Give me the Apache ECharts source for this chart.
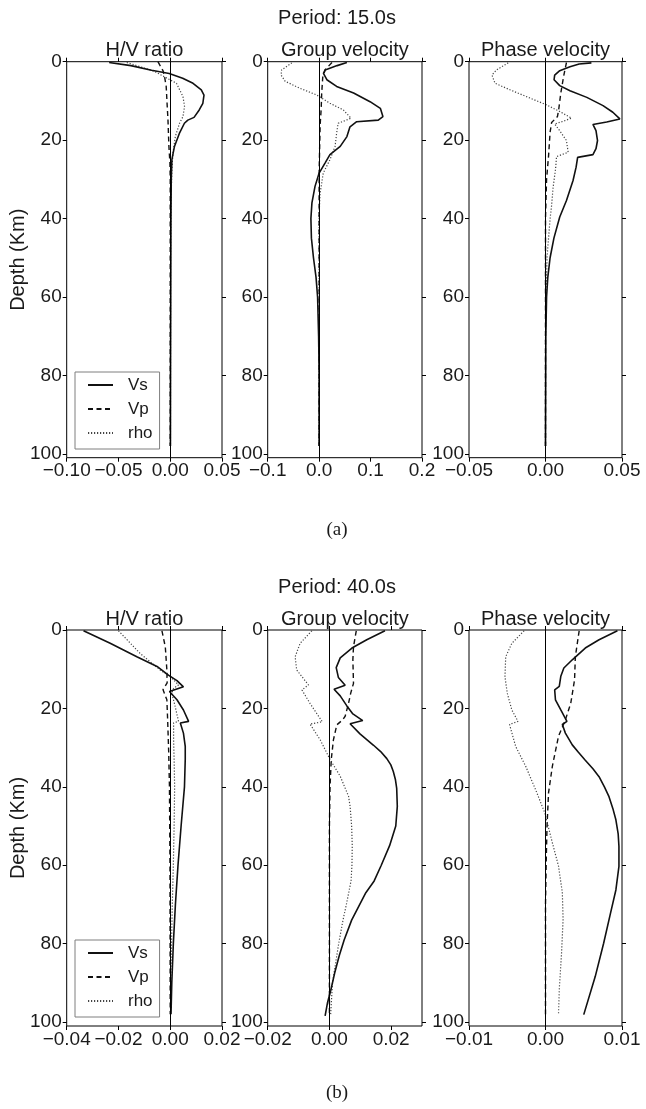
<!DOCTYPE html>
<html>
<head>
<meta charset="utf-8">
<script src="https://cdn.jsdelivr.net/npm/echarts@6/dist/echarts.min.js"></script>
<style>html,body{margin:0;padding:0;background:#fff;}#c{width:646px;height:1109px;}</style>
</head>
<body>
<div id="c"></div>
<script>
// ---------- DATA: [value, depth(km)] ----------
// Period 15.0 s
const hv15_vs = [[-0.059,0.2],[-0.038,1.0],[-0.018,2.2],[-0.001,3.0],[0.012,4.2],[0.022,5.5],[0.030,7.2],[0.0326,8.5],[0.0315,10.6],[0.028,12.3],[0.023,14.2],[0.017,14.9],[0.0137,15.7],[0.0088,18.3],[0.004,21.7],[0.0016,25],[0.001,30],[0.0007,40],[0.0005,60],[0.0003,80],[0.0002,98]];
const hv15_vp = [[-0.0119,0],[-0.007,2.3],[-0.0055,3.8],[-0.0039,6.3],[-0.0029,11.4],[-0.0022,14.7],[-0.0013,21.5],[-0.0003,25.8],[0,30],[0,98]];
const hv15_rho = [[-0.042,0.2],[-0.030,1.2],[-0.015,2.5],[-0.006,3.8],[0.006,5.5],[0.0123,8.9],[0.0138,11.4],[0.0123,14],[0.009,15.7],[0.005,19],[0.0026,23.3],[0.0016,27.6],[0.0008,35],[0.0003,50],[0.0002,98]];
const gv15_vs = [[0.054,0.2],[0.035,1],[0.0117,2.1],[0.0084,3],[0.015,4.6],[0.034,6.3],[0.067,8],[0.099,10.2],[0.119,11.9],[0.124,14],[0.115,14.9],[0.073,15.3],[0.060,16.6],[0.054,19.1],[0.041,21.6],[0.021,23.7],[0.0117,25.8],[0,28.4],[-0.008,31.8],[-0.014,36],[-0.016,40],[-0.015,45],[-0.011,50],[-0.006,55],[-0.003,60],[-0.001,70],[0,80],[0,98]];
const gv15_vp = [[0.025,0.2],[0.012,2],[0.007,4],[0.005,8],[0.004,12],[0.002,16],[0.001,22],[0,28],[0,98]];
const gv15_rho = [[-0.053,0.3],[-0.073,2.1],[-0.074,3.4],[-0.066,5],[-0.037,6.8],[-0.0045,8.5],[0.021,10.6],[0.047,12.3],[0.062,14.4],[0.051,15],[0.037,15.7],[0.034,18.2],[0.031,21.6],[0.021,25],[0.008,28.4],[0.002,33.5],[0,38.6],[0,98]];
const pv15_vs = [[0.030,0.3],[0.022,0.6],[0.016,1.3],[0.0093,2.3],[0.006,3.4],[0.0056,4.6],[0.0093,6.1],[0.016,7.4],[0.027,9.1],[0.0376,11.2],[0.044,12.9],[0.0486,14.6],[0.040,15.4],[0.031,16],[0.033,17.6],[0.034,20.1],[0.033,22.2],[0.031,23.7],[0.021,24.4],[0.020,26.9],[0.018,30.3],[0.0137,35.4],[0.0093,39.6],[0.0055,45],[0.003,50],[0.0015,55],[0.0007,60],[0.0002,70],[0,98]];
const pv15_vp = [[0.0137,0.2],[0.012,3.4],[0.010,8],[0.0087,12],[0.0078,14],[0.004,15.5],[0.003,18],[0.002,24],[0.0007,30],[0,40],[0,98]];
const pv15_rho = [[-0.0244,0.3],[-0.032,2.1],[-0.035,3.4],[-0.033,5.5],[-0.023,7.2],[-0.010,9.3],[0.0006,11],[0.0093,12.7],[0.017,14.4],[0.0115,15.2],[0.006,15.9],[0.0093,17.6],[0.0137,20.1],[0.0148,23.1],[0.0072,24.2],[0.0067,26.9],[0.005,32],[0.0039,37],[0.003,40],[0.002,45],[0.001,50],[0.0004,60],[0,70],[0,98]];
// Period 40.0 s
const hv40_vs = [[-0.0335,0.2],[-0.0232,3.4],[-0.0129,6.8],[-0.0051,9.3],[-0.0007,11.5],[0.0026,12.9],[0.0051,14.5],[-0.0003,15.7],[0.0026,17.8],[0.0051,20.4],[0.0071,23.3],[0.0039,23.7],[0.0051,26.3],[0.0058,29.7],[0.0058,33],[0.0055,40],[0.0042,50],[0.003,60],[0.002,70],[0.0012,80],[0.0006,90],[0.0003,98]];
const hv40_vp = [[-0.0032,0.2],[-0.0019,4.3],[-0.0013,10.2],[-0.0012,13.5],[-0.0028,15.2],[-0.0013,17.8],[-0.001,22.9],[-0.0006,31],[-0.0003,40],[-0.0001,60],[0,98]];
const hv40_rho = [[-0.020,0.2],[-0.0116,6],[-0.0039,10.2],[0,11.9],[0.0032,14],[0.0013,14.9],[0.0006,16.1],[0.0019,19.5],[0.0032,23.3],[0.0013,23.7],[0.0013,28],[0.0015,33],[0.0017,40],[0.0015,50],[0.0012,60],[0.0008,70],[0.0005,80],[0.0002,90],[0.0001,98]];
const gv40_vs = [[0.018,0.2],[0.0121,2.5],[0.0073,4.6],[0.0035,7.1],[0.0022,9.6],[0.0029,12.1],[0.0051,14.1],[0.0015,15.1],[0.0035,16.8],[0.0056,19.3],[0.0076,21.4],[0.0108,23.1],[0.0067,23.9],[0.0099,26.5],[0.0143,29.4],[0.0166,31],[0.0186,32.8],[0.0199,34.4],[0.0207,36.1],[0.0214,38.2],[0.0218,40.4],[0.022,45],[0.0215,50],[0.0195,55],[0.0168,60],[0.0145,64],[0.0118,67],[0.0095,70.5],[0.0072,74],[0.0048,79],[0.0032,83],[0.0017,87.5],[0.0004,92],[-0.0006,95],[-0.0014,98.4]];
const gv40_vp = [[0.0087,0.2],[0.0078,4.3],[0.0076,7.6],[0.0078,13.6],[0.0069,16.1],[0.0062,18.7],[0.0051,22],[0.0043,22.9],[0.0024,24.2],[0.0013,28],[0.0006,33],[0.0002,40],[0,50],[0,98]];
const gv40_rho = [[-0.0057,0.2],[-0.0095,3.4],[-0.0111,6.8],[-0.0106,10.2],[-0.0068,14],[-0.0089,15.3],[-0.0063,18.7],[-0.0023,23.4],[-0.0063,24],[-0.003,28],[0.0002,33],[0.0035,37.3],[0.0062,42.4],[0.0067,45],[0.0072,50],[0.0074,55],[0.0073,60],[0.007,64],[0.0055,70],[0.0044,74],[0.003,80],[0.0022,84],[0.001,90],[0.0004,98]];
const pv40_vs = [[0.0094,0.2],[0.007,2.5],[0.0052,4.6],[0.0035,7.6],[0.0024,9.7],[0.002,11.8],[0.0018,14.4],[0.0012,15.3],[0.0013,17.8],[0.002,20.4],[0.0028,23.3],[0.0022,24.1],[0.0026,26.3],[0.0035,29.3],[0.0043,31.2],[0.0052,33.2],[0.0062,35.4],[0.007,37.4],[0.0077,40],[0.0083,42.5],[0.0088,45.5],[0.0092,48.4],[0.0095,52],[0.0096,55.2],[0.0096,60.3],[0.0092,66.3],[0.0085,72.2],[0.0076,79.9],[0.0065,88.4],[0.005,98.1]];
const pv40_vp = [[0.0044,0.2],[0.0039,6.8],[0.0038,12.7],[0.0033,18.7],[0.0026,22.9],[0.0017,27.1],[0.0009,34.7],[0.0004,41.5],[0.0002,50],[0.0001,58.5],[0,70],[0,98]];
const pv40_rho = [[-0.0028,0.2],[-0.0044,3.4],[-0.0052,6.8],[-0.0053,11.9],[-0.005,16.1],[-0.0044,20.4],[-0.0036,23.3],[-0.0047,24.1],[-0.0039,29.7],[-0.0026,34.7],[-0.0013,40.7],[-0.0001,46.6],[0.0009,54.3],[0.0017,60.2],[0.0022,67],[0.0023,73.8],[0.0021,82.3],[0.0018,91.6],[0.0017,98]];

const seriesNames = ['Vs','Vp','rho'];
const panelTitles = ['H/V ratio','Group velocity','Phase velocity'];
const periodTitles = ['Period: 15.0s','Period: 40.0s'];
const captions = ['(a)','(b)'];
const yTicks = [0,20,40,60,80,100];
const xMins = [-0.10,-0.1,-0.05,-0.04,-0.02,-0.01];
const xMaxs = [0.05,0.2,0.05,0.02,0.03,0.01];
const xSteps = [0.05,0.1,0.05,0.02,0.02,0.01];
const xTicks = [[-0.10,-0.05,0,0.05],[-0.1,0,0.1,0.2],[-0.05,0,0.05],[-0.04,-0.02,0,0.02],[-0.02,0,0.02],[-0.01,0,0.01]];
const xTickLabels = [['\u22120.10','\u22120.05','0.00','0.05'],['\u22120.1','0.0','0.1','0.2'],['\u22120.05','0.00','0.05'],['\u22120.04','\u22120.02','0.00','0.02'],['\u22120.02','0.00','0.02'],['\u22120.01','0.00','0.01']];
const panelData = [
  [hv15_vs,hv15_vp,hv15_rho],[gv15_vs,gv15_vp,gv15_rho],[pv15_vs,pv15_vp,pv15_rho],
  [hv40_vs,hv40_vp,hv40_rho],[gv40_vs,gv40_vp,gv40_rho],[pv40_vs,pv40_vp,pv40_rho]
];

// ---------- LAYOUT ----------
const FONT = '"Liberation Sans", Arial, sans-serif';
const TXT = '#1a1a1a';
const colLeft = [66.7, 267.7, 469];
const colWidth = [155.3, 154.3, 153];
const rowTop = [61.7, 630];
const rowHeight = 396;
const yMax = 101;

const grids = [], xAxes = [], yAxes = [], series = [];
for (let p = 0; p < 6; p++) {
  const r = Math.floor(p / 3), c = p % 3;
  grids.push({left: colLeft[c], top: rowTop[r], width: colWidth[c], height: rowHeight,
    show: true, borderColor: '#000', borderWidth: 1, backgroundColor: 'transparent', containLabel: false});
}
function xFmt(p) {
  return function (v) {
    const i = xTicks[p].findIndex(t => Math.abs(t - v) < 1e-9);
    return i < 0 ? '' : xTickLabels[p][i];
  };
}
const tickStyle = {show: true, inside: false, length: 4, lineStyle: {color: '#000', width: 1}};
for (let p = 0; p < 6; p++) {
  xAxes.push({type: 'value', gridIndex: p, min: xMins[p], max: xMaxs[p], interval: xSteps[p], position: 'bottom',
    axisLine: {show: false, onZero: false}, splitLine: {show: false},
    axisTick: Object.assign({customValues: xTicks[p]}, tickStyle),
    axisLabel: {customValues: xTicks[p], formatter: xFmt(p), fontSize: 19, fontFamily: FONT, color: TXT, margin: 4, showMinLabel: true, showMaxLabel: true, hideOverlap: false}});
  yAxes.push({type: 'value', gridIndex: p, min: 0, max: yMax, interval: 20, inverse: true, position: 'left',
    axisLine: {show: false, onZero: false}, splitLine: {show: false},
    axisTick: Object.assign({customValues: yTicks}, tickStyle),
    axisLabel: {customValues: yTicks, formatter: v => (yTicks.indexOf(v) >= 0 ? String(v) : ''), fontSize: 19, fontFamily: FONT, color: TXT, margin: 5, showMinLabel: true, showMaxLabel: true}});
}
for (let p = 0; p < 6; p++) {
  xAxes.push({type: 'value', gridIndex: p, min: xMins[p], max: xMaxs[p], interval: xSteps[p], position: 'top',
    axisLine: {show: false, onZero: false}, splitLine: {show: false},
    axisTick: Object.assign({customValues: xTicks[p]}, tickStyle), axisLabel: {show: false}});
  yAxes.push({type: 'value', gridIndex: p, min: 0, max: yMax, interval: 20, inverse: true, position: 'right',
    axisLine: {show: false, onZero: false}, splitLine: {show: false},
    axisTick: Object.assign({customValues: yTicks}, tickStyle), axisLabel: {show: false}});
}
const styles = [
  {color: '#111', width: 1.6, type: 'solid'},
  {color: '#111', width: 1.4, type: [5, 3.5]},
  {color: '#444', width: 1.2, type: [1.2, 1.8]}
];
for (let p = 0; p < 6; p++) {
  for (let s = 0; s < 3; s++) {
    const ser = {type: 'line', name: seriesNames[s], xAxisIndex: p, yAxisIndex: p, data: panelData[p][s],
      showSymbol: false, symbol: 'none', smooth: false, color: styles[s].color,
      lineStyle: styles[s], emphasis: {disabled: true}, z: 3 - s};
    if (s === 0) {
      ser.markLine = {silent: true, symbol: ['none', 'none'], label: {show: false}, animation: false,
        lineStyle: {color: '#000', width: 1, type: 'solid'}, emphasis: {disabled: true}, data: [{xAxis: 0}]};
    }
    series.push(ser);
  }
}
const legends = rowTop.map((t, r) => ({
  data: seriesNames, orient: 'vertical', left: 75, top: r === 0 ? 372 : 940,
  itemWidth: 25, itemHeight: 14, itemGap: 7, padding: [4.5, 7, 7.5, 12],
  itemStyle: {opacity: 0},
  borderColor: '#7f7f7f', borderWidth: 1, backgroundColor: '#fff', selectedMode: false,
  textStyle: {fontSize: 17, fontFamily: FONT, color: TXT, padding: [0, 0, 0, 10]}
}));

const graphic = [];
for (let r = 0; r < 2; r++) {
  graphic.push({type: 'text', x: 337, y: rowTop[r] - 43, style: {text: periodTitles[r], fontSize: 20, fontFamily: FONT, fill: TXT, align: 'center', verticalAlign: 'middle'}});
  for (let c = 0; c < 3; c++) {
    graphic.push({type: 'text', x: colLeft[c] + colWidth[c] / 2, y: rowTop[r] - 11, style: {text: panelTitles[c], fontSize: 20, fontFamily: FONT, fill: TXT, align: 'center', verticalAlign: 'middle'}});
  }
  graphic.push({type: 'text', x: 18, y: rowTop[r] + rowHeight / 2, rotation: Math.PI / 2, style: {text: 'Depth (Km)', fontSize: 20, fontFamily: FONT, fill: TXT, align: 'center', verticalAlign: 'middle'}});
  graphic.push({type: 'text', x: 337, y: r === 0 ? 530 : 1093, style: {text: captions[r], fontSize: 19, fontFamily: '"Liberation Serif", "DejaVu Serif", serif', fill: TXT, align: 'center', verticalAlign: 'middle'}});
}

const chart = echarts.init(document.getElementById('c'), null, {renderer: 'canvas'});
chart.setOption({animation: false, backgroundColor: '#fff', grid: grids, xAxis: xAxes, yAxis: yAxes, series: series, legend: legends, graphic: graphic});
</script>
</body>
</html>
